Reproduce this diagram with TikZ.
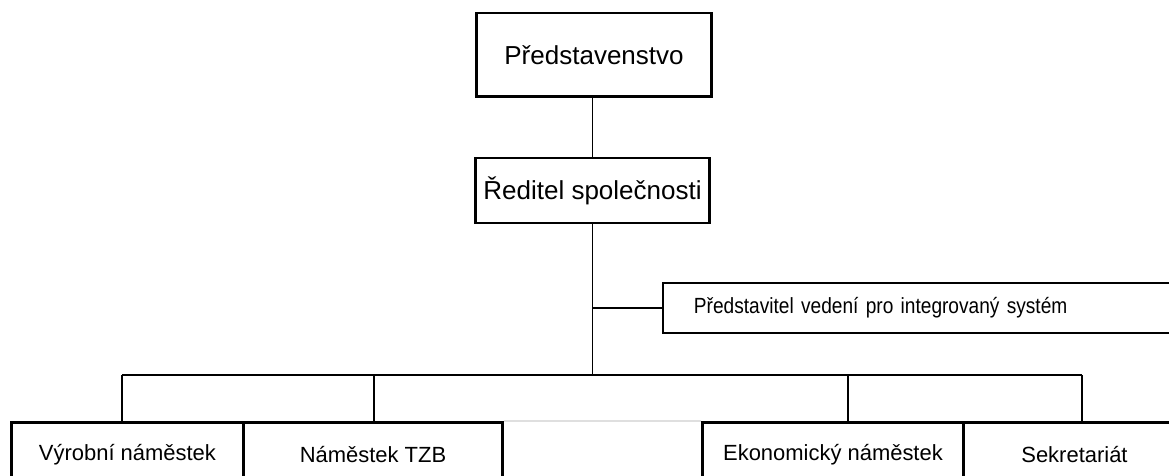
\documentclass[tikz,border=0pt]{standalone}
\usepackage{fontspec}
\setmainfont{Liberation Sans}
\newfontfamily\narrowfont[FakeStretch=0.87]{Liberation Sans}
\usetikzlibrary{calc}

\begin{document}
\begin{tikzpicture}[x=0.02cm, y=-0.02cm]
    \tikzset{
        every node/.style={font=\fontsize{12.5}{15}\selectfont},
        box/.style={draw, line width=1.7pt, inner sep=0pt, align=center},
        topbox/.style={box, font=\fontsize{14.8}{17}\selectfont},
        lowbox/.style={box, anchor=north west, minimum height=1.28cm},
        link/.style={line width=0.8pt}
    }
    \useasboundingbox (0,0) rectangle (1169,476);
    \clip (0,0) rectangle (1169,476);

    % draw board and director
    \node[topbox, minimum width=4.72cm, minimum height=1.68cm] (board) at (594,55) {Představenstvo};
    \node[topbox, minimum width=4.7cm, minimum height=1.3cm] (director) at (592.5,190.5) {Ředitel společnosti};
    \draw[link] (director.north) -- (director.north |- board.south);

    % draw representative for the integrated system
    \node[box, line width=1.1pt, anchor=north west, text width=9.12cm, inner xsep=0.62cm,
          minimum height=1cm, align=left, font=\narrowfont\fontsize{12.5}{15}\selectfont]
          (rep) at (662,282) {Představitel vedení pro integrovaný systém};
    \coordinate (branch) at (director.south |- rep.west);
    \draw[link] (director.south) -- (branch) -- (rep.west);

    % draw the deputies
    \node[lowbox, minimum width=4.64cm] (production) at (10,421) {Výrobní náměstek};
    \node[lowbox, minimum width=5.18cm] (tzb) at (242,421) {Náměstek TZB};
    \node[lowbox, minimum width=5.22cm] (economic) at (701,421) {Ekonomický náměstek};
    \node[lowbox, minimum width=4.44cm] (secretariat) at (962,421) {Sekretariát};
    \draw[gray!25, line width=0.8pt] (tzb.north east) -- (economic.north west);

    % draw bus
    \coordinate (bus) at (592.5,375);
    \coordinate (drop1) at (122,375);
    \coordinate (drop2) at (374,375);
    \coordinate (drop3) at (848,375);
    \coordinate (drop4) at (1082,375);
    \draw[link] (branch) -- (bus);
    \draw[link] (drop1) -- (drop4);
    \draw[link] (drop1) -- (drop1 |- production.north);
    \draw[link] (drop2) -- (drop2 |- tzb.north);
    \draw[link] (drop3) -- (drop3 |- economic.north);
    \draw[link] (drop4) -- (drop4 |- secretariat.north);

\end{tikzpicture}
\end{document}
